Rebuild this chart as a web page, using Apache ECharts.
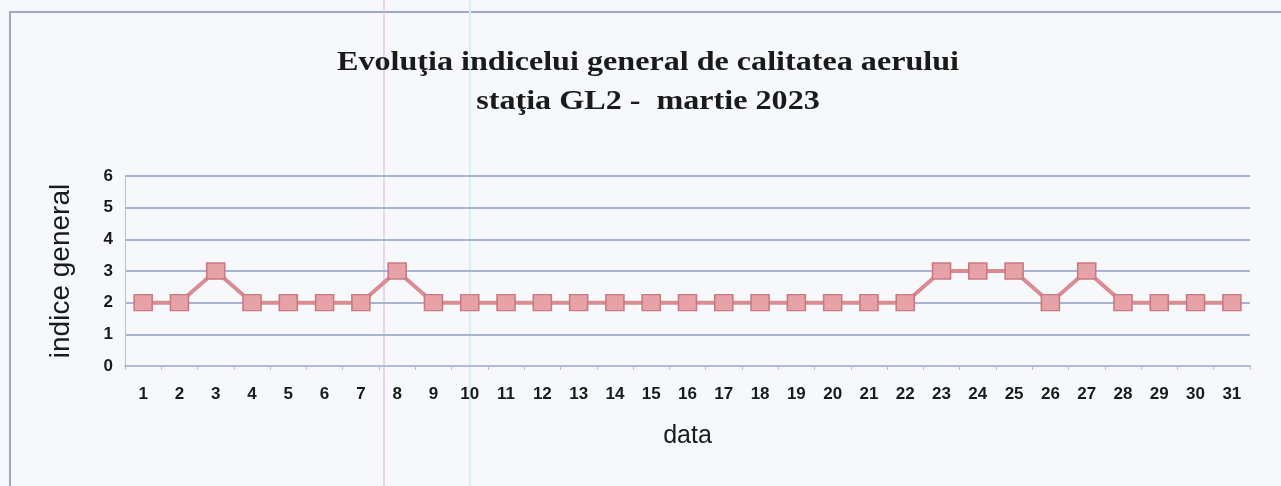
<!DOCTYPE html>
<html>
<head>
<meta charset="utf-8">
<script src="https://cdn.jsdelivr.net/npm/echarts@6/dist/echarts.min.js"></script>
<style>
  html, body { margin: 0; padding: 0; background: #f7f8fc; }
  #chart { width: 1281px; height: 486px; }
</style>
</head>
<body>
<div id="chart"></div>
<script>
// zilele lunii
var zile = [];
for (var d = 1; d <= 31; d++) zile.push(String(d));
// indice general, statia GL2
var indice = [2, 2, 3, 2, 2, 2, 2, 3, 2, 2, 2, 2, 2, 2, 2, 2, 2, 2, 2, 2, 2, 2, 3, 3, 3, 2, 3, 2, 2, 2, 2];
var titlu = ['Evoluţia indicelui general de calitatea aerului', 'staţia GL2 -  martie 2023'];

// textul din scan e putin latit pe orizontala
function linieTitlu(txt, y) {
  return {
    type: 'text',
    x: 648,
    y: y,
    scaleX: 1.19,
    style: {
      text: txt,
      font: 'bold 27px "Liberation Serif"',
      fill: '#1a1a1a',
      align: 'center',
      verticalAlign: 'middle'
    }
  };
}

var chart = echarts.init(document.getElementById('chart'));
chart.setOption({
  backgroundColor: '#f7f8fc',
  animation: false,
  graphic: [
    {
      type: 'polyline',
      shape: { points: [[10, 486], [10, 12], [1281, 12]] },
      style: { stroke: '#9ea8c4', lineWidth: 2, fill: null }
    },
    // urme de scanare
    { type: 'line', shape: { x1: 384, y1: 0, x2: 384, y2: 486 }, style: { stroke: '#d9b3e0', lineWidth: 1 } },
    { type: 'line', shape: { x1: 470, y1: 0, x2: 470, y2: 486 }, style: { stroke: '#d4f0f2', lineWidth: 2 } },
    linieTitlu(titlu[0], 63),
    linieTitlu(titlu[1], 102)
  ],
  grid: { left: 125, right: 31, top: 176, bottom: 120 },
  xAxis: {
    type: 'category',
    data: zile,
    boundaryGap: true,
    name: 'data',
    nameLocation: 'middle',
    nameGap: 58,
    nameTextStyle: { fontFamily: 'Liberation Sans', fontSize: 25, color: '#1a1a1a' },
    axisLine: { lineStyle: { color: '#b2bbdc', width: 2 } },
    axisTick: { show: true, length: 4, lineStyle: { color: '#b2bbdc' } },
    axisLabel: {
      margin: 20,
      fontFamily: 'Liberation Sans',
      fontWeight: 'bold',
      fontSize: 17,
      color: '#1a1a1a'
    }
  },
  yAxis: {
    type: 'value',
    min: 0,
    max: 6,
    interval: 1,
    name: 'indice general',
    nameLocation: 'middle',
    nameGap: 50,
    nameTextStyle: { fontFamily: 'Liberation Sans', fontSize: 28, color: '#1a1a1a' },
    axisLine: { show: true, lineStyle: { color: '#b4bde0', width: 1 } },
    axisTick: { show: false },
    axisLabel: {
      margin: 12,
      fontFamily: 'Liberation Sans',
      fontWeight: 'bold',
      fontSize: 17,
      color: '#1a1a1a'
    },
    splitLine: { lineStyle: { color: '#a9b3d6', width: 2 } }
  },
  series: [{
    type: 'line',
    data: indice,
    symbol: 'rect',
    symbolSize: [18, 16],
    lineStyle: { color: '#d98c92', width: 4 },
    itemStyle: { color: '#e6a2a7', borderColor: '#c97a80', borderWidth: 1.5 }
  }]
});
</script>
</body>
</html>
